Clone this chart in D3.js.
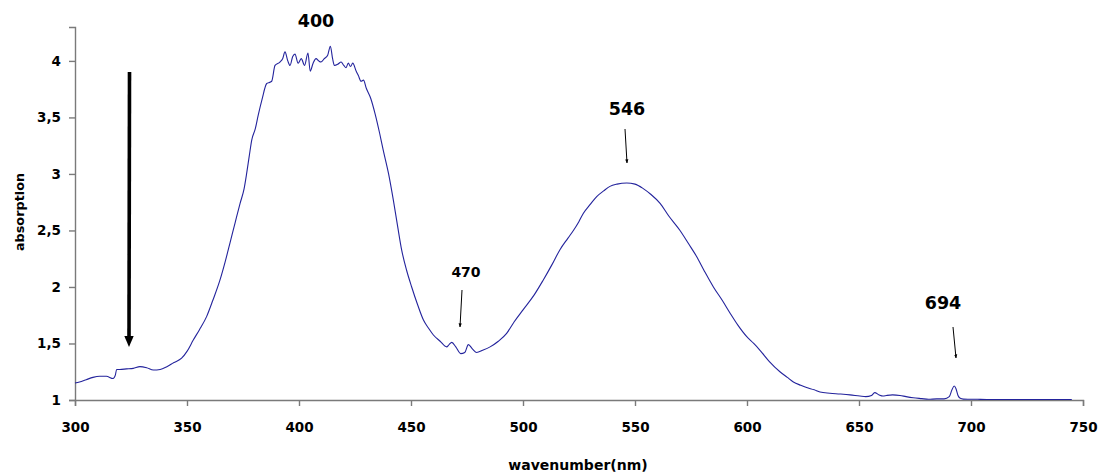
<!DOCTYPE html>
<html><head><meta charset="utf-8">
<script src="https://cdn.jsdelivr.net/npm/d3@7"></script>
<style>body{margin:0;background:#fff}svg text{font-family:"DejaVu Sans",Verdana,sans-serif;font-weight:bold;fill:#000}</style>
</head><body><svg id="c" width="1104" height="475"></svg>
<script>
const wavelength = [300,302,305,308,311,314,317,318,318.6,320,323,326,329,332,335,338,341,344,347.6,350,352.8,355.5,358.8,361.5,364.7,367,369.2,371.5,373.7,375.5,376.6,377.8,378.9,380.5,381.8,383.5,385.6,386.8,387.8,389.3,391.5,392.7,393.75,395,396,397.2,398.2,399.6,401,402.5,404,405,406.3,407.6,408.8,409.8,411.3,412.8,414,415,415.8,417.3,418.8,420,421,422,423,424,425.5,426.5,427.7,428.8,430,432,434,436,437.6,440,442.1,444,445.8,448,450.3,453,455.5,458,460,463,465.9,467,468.2,470,472.2,474,475.6,477.5,479.3,482,485.3,489,492.7,496,500.1,505,509,513,516.5,520,522.5,525,526.9,530,532.9,536,538.8,542,546.3,550,553.7,557,561.2,565,570.1,574,577.5,581,585,589,592.4,596,599.9,603,605.8,610,614.7,618,620.7,624,626.6,630,632.6,637,641.5,646,650.4,653,655.6,657,659,660.7,662.3,665,668.3,671,674.2,678,681,684.7,688,690.3,691.5,692.5,693.3,694.2,695.2,696.6,699.6,703,707,715,725,735,745,750];
const absorbance = [1.15,1.16,1.18,1.2,1.21,1.21,1.19,1.22,1.27,1.27,1.275,1.28,1.295,1.285,1.265,1.27,1.295,1.33,1.37,1.43,1.53,1.62,1.74,1.88,2.06,2.22,2.39,2.57,2.74,2.87,3.0,3.16,3.30,3.4,3.52,3.66,3.80,3.81,3.82,3.96,3.99,4.02,4.08,4.0,3.96,4.04,4.06,3.98,4.02,3.96,4.07,3.91,3.98,4.02,4.0,3.99,4.02,4.05,4.13,4.02,3.96,3.97,3.99,3.96,3.94,3.98,3.95,3.98,3.91,3.87,3.82,3.83,3.76,3.67,3.53,3.36,3.21,3.0,2.77,2.54,2.33,2.15,2.0,1.84,1.71,1.63,1.575,1.52,1.47,1.49,1.51,1.47,1.41,1.42,1.49,1.45,1.42,1.44,1.47,1.52,1.59,1.69,1.80,1.93,2.06,2.2,2.33,2.43,2.50,2.58,2.65,2.73,2.80,2.85,2.89,2.91,2.92,2.91,2.87,2.82,2.74,2.63,2.50,2.38,2.27,2.14,2.00,1.88,1.77,1.66,1.56,1.50,1.44,1.34,1.25,1.2,1.16,1.13,1.11,1.09,1.07,1.06,1.053,1.045,1.035,1.03,1.04,1.065,1.045,1.035,1.04,1.045,1.04,1.03,1.02,1.012,1.006,1.01,1.01,1.03,1.09,1.124,1.1,1.04,1.015,1.008,1.007,1.006,1.005,1.005,1.005,1.005,1.004];
const xTicks = [300,350,400,450,500,550,600,650,700,750];
const yTicks = [1,1.5,2,2.5,3,3.5,4];
const annLabels = ["400","546","470","694"];

const svg = d3.select("#c");
const x = d3.scaleLinear().domain([300,750]).range([75,1083]);
const y = d3.scaleLinear().domain([1,4.3]).range([400,27]);
const axisColor = "#7a7a7a";

const gx = svg.append("g").attr("transform","translate(0,400)")
  .call(d3.axisBottom(x).tickValues(xTicks).tickSize(6).tickPadding(16).tickFormat(d3.format("d")));
const gy = svg.append("g").attr("transform","translate(75,0)")
  .call(d3.axisLeft(y).tickValues(yTicks).tickSize(6).tickPadding(8).tickFormat(d=>String(d).replace(".",",")));
[gx,gy].forEach(g=>{
  g.select(".domain").attr("stroke",axisColor).attr("stroke-width",1.4);
  g.selectAll(".tick line").attr("stroke",axisColor).attr("stroke-width",1.4);
  g.selectAll(".tick text").attr("font-size",13.5).attr("font-family","DejaVu Sans").attr("font-weight","bold").attr("fill","#000");
});

const pts = wavelength.map((w,i)=>[w,absorbance[i]]);
svg.append("path").datum(pts)
  .attr("fill","none").attr("stroke","#23239c").attr("stroke-width",1.1)
  .attr("d",d3.line().x(d=>x(d[0])).y(d=>y(d[1])).curve(d3.curveMonotoneX));

svg.append("text").attr("transform","translate(24,212) rotate(-90)").attr("text-anchor","middle")
  .attr("font-size",12.8).text("absorption");
svg.append("text").attr("x",578).attr("y",470).attr("text-anchor","middle")
  .attr("font-size",14).text("wavenumber(nm)");

// annotations
const defs = svg.append("defs");
defs.append("marker").attr("id","ahs").attr("viewBox","0 0 10 10").attr("refX",9).attr("refY",5)
  .attr("markerWidth",4).attr("markerHeight",4).attr("orient","auto")
  .append("path").attr("d","M0,1 L10,5 L0,9 z").attr("fill","#000");

svg.append("text").attr("x",316).attr("y",27).attr("text-anchor","middle").attr("font-size",17.5).text(annLabels[0]);
svg.append("text").attr("x",627).attr("y",115).attr("text-anchor","middle").attr("font-size",17.5).text(annLabels[1]);
svg.append("text").attr("x",466).attr("y",277).attr("text-anchor","middle").attr("font-size",14).text(annLabels[2]);
svg.append("text").attr("x",943).attr("y",309).attr("text-anchor","middle").attr("font-size",17.5).text(annLabels[3]);

function arrow(x1,y1,x2,y2){
  svg.append("line").attr("x1",x1).attr("y1",y1).attr("x2",x2).attr("y2",y2)
    .attr("stroke","#000").attr("stroke-width",1).attr("marker-end","url(#ahs)");
}
arrow(625,129,627,163);
arrow(462,290,460,327);
arrow(953,327,956,358);
// big arrow
svg.append("line").attr("x1",129.5).attr("y1",72).attr("x2",129).attr("y2",338)
  .attr("stroke","#000").attr("stroke-width",3.6);
svg.append("path").attr("d","M124.3,336 L133.7,336 L129,347 Z").attr("fill","#000");
</script></body></html>
